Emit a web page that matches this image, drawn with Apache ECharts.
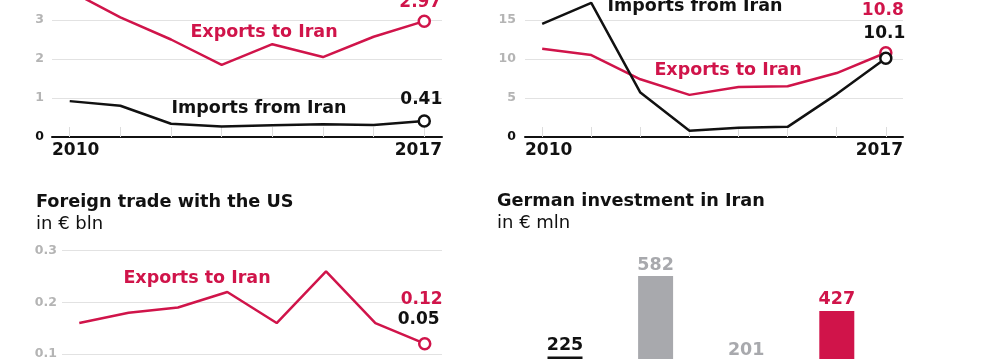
<!DOCTYPE html>
<html><head><meta charset="utf-8">
<script src="https://cdn.jsdelivr.net/npm/echarts@6/dist/echarts.min.js"></script>
<style>html,body{margin:0;padding:0;background:#fff;overflow:hidden}#c{width:1000px;height:359px}</style>
</head><body><div id="c"></div>
<script>
// ---- data ----
const years = [2010, 2011, 2012, 2013, 2014, 2015, 2016, 2017];
const yearTickLabels = ['2010', '2017'];
// Panel A (top-left), € bln
const aExportsToIran = [3.75, 3.07, 2.5, 1.85, 2.38, 2.05, 2.57, 2.97];
const aImportsFromIran = [0.92, 0.8, 0.34, 0.27, 0.3, 0.33, 0.31, 0.41];
// Panel B (top-right), € bln
const bExportsToIran = [11.3, 10.5, 7.4, 5.4, 6.4, 6.5, 8.2, 10.8];
const bImportsFromIran = [14.5, 17.2, 5.7, 0.8, 1.2, 1.3, 5.5, 10.1];
// Foreign trade with the US, € bln
const usExportsToIran = [0.16, 0.18, 0.19, 0.22, 0.16, 0.26, 0.16, 0.12];
const usImportsFromIran = [0.07, 0.06, 0.06, 0.05, 0.05, 0.06, 0.06, 0.05];
// German investment in Iran, € mln
const investCategories = ['2014', '2015', '2016', '2017'];
const investValues = [225, 582, 201, 427];

// ---- style ----
const RED = '#d0144a', BLACK = '#111111', GRAY = '#a8a9ad', LBL = '#b4b4b4', GRID = '#e2e2e2';
const FF = '"DejaVu Sans", sans-serif';
const XMIN = 2009.65, XMAX = 2017.35;
const investColors = [BLACK, GRAY, GRAY, RED];

function xAxisCfg(gi, showAxis) {
  return {
    type: 'value', gridIndex: gi, min: XMIN, max: XMAX,
    splitLine: { show: false },
    axisLine: { show: showAxis, onZero: false, lineStyle: { color: BLACK, width: 2 } },
    axisTick: { show: showAxis, inside: true, length: 10, customValues: years, lineStyle: { color: '#dddddd', width: 1 } },
    axisLabel: {
      show: showAxis, customValues: [XMIN, XMAX], margin: 5,
      formatter: v => (v < 2013 ? yearTickLabels[0] : yearTickLabels[1]),
      alignMinLabel: 'left', alignMaxLabel: 'right',
      color: BLACK, fontFamily: FF, fontWeight: 'bold', fontSize: 17, lineHeight: 18
    }
  };
}
function yAxisCfg(gi, max, interval, margin, fmt) {
  return {
    type: 'value', gridIndex: gi, min: 0, max: max, interval: interval,
    axisLine: { show: false }, axisTick: { show: false },
    splitLine: { lineStyle: { color: GRID, width: 1 } },
    axisLabel: {
      margin: margin, formatter: fmt,
      color: v => (Number(v) === 0 ? BLACK : LBL),
      fontFamily: FF, fontWeight: 'bold', fontSize: 12.5
    }
  };
}
function lineSeries(gi, vals, color, offset, z) {
  const last = vals.length - 1;
  return {
    type: 'line', xAxisIndex: gi, yAxisIndex: gi, z: z, silent: true,
    data: years.map((y, i) => i === last
      ? { value: [y, vals[i]], symbol: 'circle', symbolSize: 11,
          label: { show: true, position: 'inside', offset: offset, formatter: () => String(vals[i]),
                   color: color, fontFamily: FF, fontWeight: 'bold', fontSize: 17, lineHeight: 18 } }
      : { value: [y, vals[i]], symbol: 'none' }),
    symbol: 'none',
    lineStyle: { color: color, width: 2.5 },
    itemStyle: { color: '#fff', borderColor: color, borderWidth: 2.5 },
    emphasis: { disabled: true }, animation: false
  };
}
function txt(x, y, text, color, bold, size, align) {
  return { type: 'text', x: x, y: y, silent: true,
    style: { text: text, fill: color, font: (bold ? 'bold ' : '') + size + 'px ' + FF,
             align: align || 'center', verticalAlign: 'middle' } };
}
function gridCfg(left, top, width, height) {
  return { left: left, top: top, width: width, height: height, containLabel: false, outerBoundsMode: 'none' };
}

const chart = echarts.init(document.getElementById('c'), null, { renderer: 'canvas' });
chart.setOption({
  animation: false,
  grid: [
    gridCfg(52, -19, 390, 156),
    gridCfg(525, -19, 378, 156),
    gridCfg(62, 250.7, 380, 155),
    gridCfg(519.7, 272, 362.4, 135)
  ],
  xAxis: [
    xAxisCfg(0, true), xAxisCfg(1, true), xAxisCfg(2, false),
    { type: 'category', gridIndex: 3, data: investCategories, show: false }
  ],
  yAxis: [
    yAxisCfg(0, 4, 1, 8),
    yAxisCfg(1, 20, 5, 9),
    yAxisCfg(2, 0.3, 0.1, 5, v => v.toFixed(1)),
    { type: 'value', gridIndex: 3, min: 0, max: 600, show: false, splitLine: { show: false } }
  ],
  series: [
    lineSeries(0, aExportsToIran, RED, [-4, -18.5], 3),
    lineSeries(0, aImportsFromIran, BLACK, [-3, -21], 4),
    lineSeries(1, bExportsToIran, RED, [-3, -42], 3),
    lineSeries(1, bImportsFromIran, BLACK, [-1.5, -25], 4),
    lineSeries(2, usExportsToIran, RED, [-3, -44.5], 3),
    lineSeries(2, usImportsFromIran, BLACK, [-6, -60], 4),
    {
      type: 'bar', xAxisIndex: 3, yAxisIndex: 3, barWidth: 35, silent: true,
      data: investValues.map((v, i) => ({ value: v, itemStyle: { color: investColors[i] },
        label: { color: investColors[i] } })),
      label: { show: true, position: 'top', distance: 2, fontFamily: FF, fontWeight: 'bold', fontSize: 17.5, lineHeight: 18 }
    }
  ],
  graphic: [
    txt(264, 32, 'Exports to Iran', RED, true, 17.5),
    txt(259, 108, 'Imports from Iran', BLACK, true, 17.5),
    txt(695, 6, 'Imports from Iran', BLACK, true, 17.5),
    txt(728, 70, 'Exports to Iran', RED, true, 17.5),
    txt(197, 278, 'Exports to Iran', RED, true, 17.5),
    txt(36, 202, 'Foreign trade with the US', BLACK, true, 17.7, 'left'),
    txt(36, 224, 'in € bln', BLACK, false, 18, 'left'),
    txt(497, 201, 'German investment in Iran', BLACK, true, 17.7, 'left'),
    txt(497, 223, 'in € mln', BLACK, false, 18, 'left')
  ]
});
</script></body></html>
